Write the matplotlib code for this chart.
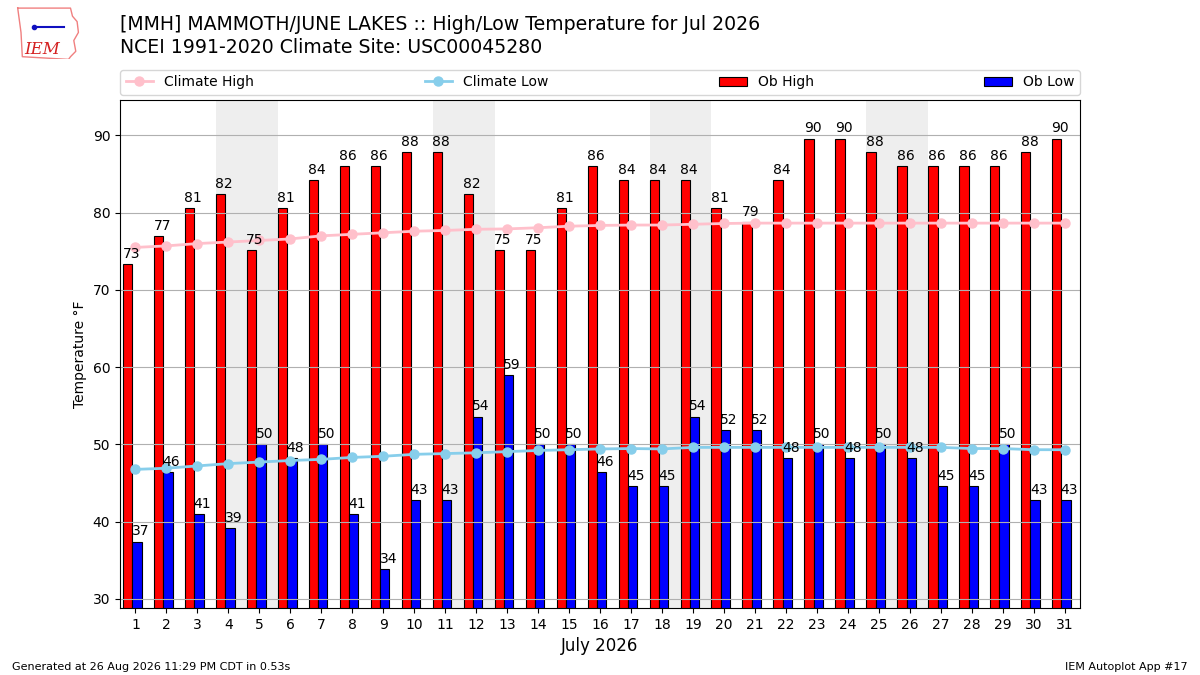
import matplotlib
matplotlib.use("Agg")
import matplotlib.pyplot as plt
import numpy as np

days = list(range(1, 32))
ob_high = [73.4, 77.0, 80.6, 82.4, 75.2, 80.6, 84.2, 86.0, 86.0, 87.8, 87.8,
           82.4, 75.2, 75.2, 80.6, 86.0, 84.2, 84.2, 84.2, 80.6, 78.8, 84.2,
           89.6, 89.6, 87.8, 86.0, 86.0, 86.0, 86.0, 87.8, 89.6]
ob_low = [37.4, 46.4, 41.0, 39.2, 50.0, 48.2, 50.0, 41.0, 33.8, 42.8, 42.8,
          53.6, 59.0, 50.0, 50.0, 46.4, 44.6, 44.6, 53.6, 51.8, 51.8, 48.2,
          50.0, 48.2, 50.0, 48.2, 44.6, 44.6, 50.0, 42.8, 42.8]
climate_high = [75.5, 75.7, 76.0, 76.2, 76.4, 76.6, 77.0, 77.2, 77.4, 77.6,
                77.7, 77.85, 77.9, 78.05, 78.25, 78.35, 78.4, 78.4, 78.5, 78.6,
                78.65, 78.65, 78.65, 78.65, 78.65, 78.65, 78.65, 78.65, 78.65,
                78.65, 78.65]
climate_low = [46.75, 46.9, 47.2, 47.5, 47.7, 47.9, 48.05, 48.3, 48.45, 48.7,
               48.8, 48.9, 49.05, 49.2, 49.3, 49.4, 49.45, 49.4, 49.6, 49.6,
               49.6, 49.6, 49.6, 49.6, 49.6, 49.6, 49.6, 49.45, 49.45, 49.3,
               49.3]
weekend_starts = [4, 11, 18, 25]

fig = plt.figure(figsize=(12, 6.75), dpi=100)
ax = fig.add_axes([0.1, 0.0993, 0.8, 0.7526])

d = np.array(days)
for w in weekend_starts:
    ax.axvspan(w - 0.4, w + 1.6, color="#eeeeee", zorder=0, lw=0)

ax.bar(d - 0.4, ob_high, width=0.3, align="edge", color="r",
       edgecolor="k", linewidth=0.8, label="Ob High", zorder=1)
ax.bar(d - 0.1, ob_low, width=0.3, align="edge", color="b",
       edgecolor="k", linewidth=0.8, label="Ob Low", zorder=1)
ax.plot(d, climate_high, color="pink", marker="o", ms=6.5, lw=2,
        label="Climate High", zorder=3)
ax.plot(d, climate_low, color="skyblue", marker="o", ms=6.5, lw=2,
        label="Climate Low", zorder=3)

for x, v in zip(d, ob_high):
    ax.text(x - 0.42, v + 0.4, f"{v:.0f}", ha="left", va="bottom",
            fontsize=10, zorder=4)
for x, v in zip(d, ob_low):
    ax.text(x - 0.12, v + 0.4, f"{v:.0f}", ha="left", va="bottom",
            fontsize=10, zorder=4)

ax.set_xlim(0.5, 31.5)
ax.set_ylim(min(ob_low) - 5, max(ob_high) + 5)
ax.set_xticks(days)
ax.set_xticklabels([str(x) for x in days])
ax.tick_params(labelsize=10)
ax.yaxis.grid(True, color="#b0b0b0", lw=0.8)
ax.set_ylabel("Temperature °F", fontsize=10)
ax.set_xlabel("July 2026", fontsize=12)

h, l = ax.get_legend_handles_labels()
order = [l.index(n) for n in ["Climate High", "Climate Low", "Ob High", "Ob Low"]]
ax.legend([h[i] for i in order], [l[i] for i in order], ncol=4,
          mode="expand", loc="lower left", bbox_to_anchor=(0, 1.01, 1, 0.05),
          borderaxespad=0, fontsize=10)

fig.text(0.1, 1 - 30 / 675, "[MMH] MAMMOTH/JUNE LAKES :: High/Low Temperature for Jul 2026",
         fontsize=13.6, va="baseline")
fig.text(0.1, 1 - 53 / 675, "NCEI 1991-2020 Climate Site: USC00045280",
         fontsize=13.6, va="baseline")
fig.text(0.01, 0.008, "Generated at 26 Aug 2026 11:29 PM CDT in 0.53s", fontsize=8)
fig.text(0.99, 0.008, "IEM Autoplot App #17", fontsize=8, ha="right")

# simple logo
lax = fig.add_axes([0.012, 0.912, 0.055, 0.08])
lax.set_xlim(0, 1)
lax.set_ylim(0, 1)
lax.axis("off")
px = [0.05, 0.85, 0.88, 0.95, 0.97, 0.9, 0.93, 0.85, 0.82, 0.12, 0.1, 0.05]
py = [0.95, 0.95, 0.8, 0.7, 0.5, 0.35, 0.15, 0.05, 0.0, 0.05, 0.5, 0.95]
lax.plot(px, py, color="#f08080", lw=1)
lax.plot([0.3, 0.75], [0.6, 0.6], color="#1010c0", lw=1.5)
lax.plot([0.3], [0.6], "o", color="#1010c0", ms=3)
lax.text(0.15, 0.1, "IEM", color="#d42020", fontsize=12, style="italic",
         family="DejaVu Serif")

fig.savefig("out.png", dpi=100)
